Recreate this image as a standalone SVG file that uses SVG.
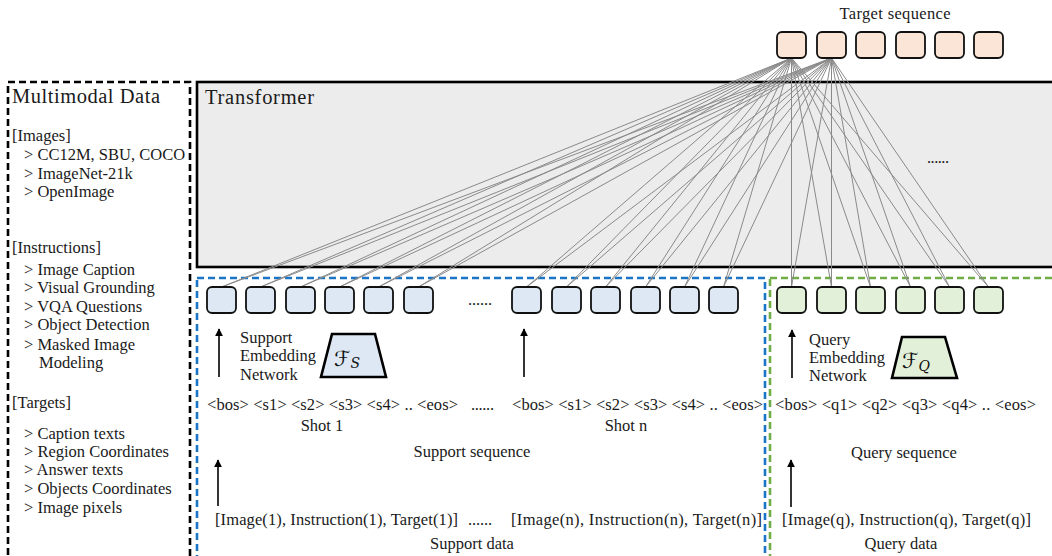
<svg xmlns="http://www.w3.org/2000/svg" width="1052" height="556" viewBox="0 0 1052 556">
  <defs>
    <style>
      .t { font-family: "Liberation Serif", "DejaVu Serif", serif; font-size: 16.5px; fill: #1a1a1a; }
      .big { font-size: 20.5px; }
      .tok { stroke: #111; stroke-width: 1.8; }
      .tgt { fill: #fbe5d6; }
      .sup { fill: #dde8f4; }
      .qry { fill: #e2efd9; }
      .conn line { stroke: #8a8a8a; stroke-width: 1; }
      .arrow { stroke: #000; stroke-width: 1.6; fill: none; marker-end: url(#head); }
      .dash { fill: none; stroke-width: 2.6; stroke-dasharray: 7 4; }
      .fs { font-family: "DejaVu Serif", "DejaVu Sans", serif; font-style: italic; fill: #111; }
    </style>
    <marker id="head" viewBox="0 0 10 10" refX="9" refY="5" markerWidth="5" markerHeight="5" orient="auto" markerUnits="strokeWidth">
      <path d="M0,0 L10,5 L0,10 z" fill="#000"/>
    </marker>
  </defs>

  <rect width="1052" height="556" fill="#fff"/>

  <!-- data sources panel -->
  <g id="multimodal-data">
    <rect class="dash" x="8" y="82" width="182" height="500" stroke="#000"/>
    <text class="t big" x="12" y="103" textLength="148">Multimodal Data</text>
    <text class="t" x="12" y="141">[Images]</text>
    <text class="t" x="24" y="160">&gt; CC12M, SBU, COCO</text>
    <text class="t" x="24" y="179">&gt; ImageNet-21k</text>
    <text class="t" x="24" y="197">&gt; OpenImage</text>
    <text class="t" x="12" y="253">[Instructions]</text>
    <text class="t" x="24" y="275">&gt; Image Caption</text>
    <text class="t" x="24" y="293">&gt; Visual Grounding</text>
    <text class="t" x="24" y="312">&gt; VQA Questions</text>
    <text class="t" x="24" y="330">&gt; Object Detection</text>
    <text class="t" x="24" y="350">&gt; Masked Image</text>
    <text class="t" x="39" y="368">Modeling</text>
    <text class="t" x="12" y="408">[Targets]</text>
    <text class="t" x="24" y="439">&gt; Caption texts</text>
    <text class="t" x="24" y="457">&gt; Region Coordinates</text>
    <text class="t" x="24" y="475">&gt; Answer texts</text>
    <text class="t" x="24" y="494">&gt; Objects Coordinates</text>
    <text class="t" x="24" y="513">&gt; Image pixels</text>
  </g>

  <!-- transformer block -->
  <g id="transformer">
    <rect x="197" y="82" width="900" height="185" fill="#ececec" stroke="#000" stroke-width="2.6"/>
    <text class="t big" x="205" y="104" textLength="109">Transformer</text>
    <text class="t" x="927" y="163" textLength="22">......</text>
  </g>

  <!-- support / query regions -->
  <g id="support-region">
    <rect class="dash" x="197" y="278" width="568" height="300" stroke="#1b75c6"/>
  </g>
  <g id="query-region">
    <rect class="dash" x="770" y="278" width="320" height="300" stroke="#70ad47"/>
  </g>

  <!-- attention connectors from target tokens to input tokens -->
  <g id="connectors" class="conn">
    <line x1="791.5" y1="58" x2="221.5" y2="287"/>
    <line x1="791.5" y1="58" x2="260.5" y2="287"/>
    <line x1="791.5" y1="58" x2="300.5" y2="287"/>
    <line x1="791.5" y1="58" x2="339.5" y2="287"/>
    <line x1="791.5" y1="58" x2="378.5" y2="287"/>
    <line x1="791.5" y1="58" x2="418.5" y2="287"/>
    <line x1="791.5" y1="58" x2="526.5" y2="287"/>
    <line x1="791.5" y1="58" x2="566.5" y2="287"/>
    <line x1="791.5" y1="58" x2="605.5" y2="287"/>
    <line x1="791.5" y1="58" x2="645.5" y2="287"/>
    <line x1="791.5" y1="58" x2="684.5" y2="287"/>
    <line x1="791.5" y1="58" x2="723.5" y2="287"/>
    <line x1="791.5" y1="58" x2="791.5" y2="287"/>
    <line x1="791.5" y1="58" x2="831.5" y2="287"/>
    <line x1="791.5" y1="58" x2="870.5" y2="287"/>
    <line x1="791.5" y1="58" x2="910.5" y2="287"/>
    <line x1="791.5" y1="58" x2="949.5" y2="287"/>
    <line x1="791.5" y1="58" x2="988.5" y2="287"/>
    <line x1="831.5" y1="58" x2="221.5" y2="287"/>
    <line x1="831.5" y1="58" x2="260.5" y2="287"/>
    <line x1="831.5" y1="58" x2="300.5" y2="287"/>
    <line x1="831.5" y1="58" x2="339.5" y2="287"/>
    <line x1="831.5" y1="58" x2="378.5" y2="287"/>
    <line x1="831.5" y1="58" x2="418.5" y2="287"/>
    <line x1="831.5" y1="58" x2="526.5" y2="287"/>
    <line x1="831.5" y1="58" x2="566.5" y2="287"/>
    <line x1="831.5" y1="58" x2="605.5" y2="287"/>
    <line x1="831.5" y1="58" x2="645.5" y2="287"/>
    <line x1="831.5" y1="58" x2="684.5" y2="287"/>
    <line x1="831.5" y1="58" x2="723.5" y2="287"/>
    <line x1="831.5" y1="58" x2="791.5" y2="287"/>
    <line x1="831.5" y1="58" x2="831.5" y2="287"/>
    <line x1="831.5" y1="58" x2="870.5" y2="287"/>
    <line x1="831.5" y1="58" x2="910.5" y2="287"/>
    <line x1="831.5" y1="58" x2="949.5" y2="287"/>
    <line x1="831.5" y1="58" x2="988.5" y2="287"/>
  </g>

  <!-- target sequence -->
  <g id="target-sequence">
    <text class="t" x="895" y="19" text-anchor="middle" textLength="111">Target sequence</text>
    <rect class="tok tgt" x="777" y="32" width="29" height="26" rx="5"/>
    <rect class="tok tgt" x="817" y="32" width="29" height="26" rx="5"/>
    <rect class="tok tgt" x="856" y="32" width="29" height="26" rx="5"/>
    <rect class="tok tgt" x="896" y="32" width="29" height="26" rx="5"/>
    <rect class="tok tgt" x="935" y="32" width="29" height="26" rx="5"/>
    <rect class="tok tgt" x="974" y="32" width="29" height="26" rx="5"/>
  </g>

  <!-- support shot 1 embeddings -->
  <g id="shot-1-embeddings">
    <rect class="tok sup" x="207" y="287" width="29" height="26" rx="5"/>
    <rect class="tok sup" x="246" y="287" width="29" height="26" rx="5"/>
    <rect class="tok sup" x="286" y="287" width="29" height="26" rx="5"/>
    <rect class="tok sup" x="325" y="287" width="29" height="26" rx="5"/>
    <rect class="tok sup" x="364" y="287" width="29" height="26" rx="5"/>
    <rect class="tok sup" x="404" y="287" width="29" height="26" rx="5"/>
    <text class="t" x="468" y="305" textLength="24">......</text>
  </g>

  <!-- support shot n embeddings -->
  <g id="shot-n-embeddings">
    <rect class="tok sup" x="512" y="287" width="29" height="26" rx="5"/>
    <rect class="tok sup" x="552" y="287" width="29" height="26" rx="5"/>
    <rect class="tok sup" x="591" y="287" width="29" height="26" rx="5"/>
    <rect class="tok sup" x="631" y="287" width="29" height="26" rx="5"/>
    <rect class="tok sup" x="670" y="287" width="29" height="26" rx="5"/>
    <rect class="tok sup" x="709" y="287" width="29" height="26" rx="5"/>
  </g>

  <!-- query embeddings -->
  <g id="query-embeddings">
    <rect class="tok qry" x="777" y="287" width="29" height="26" rx="5"/>
    <rect class="tok qry" x="817" y="287" width="29" height="26" rx="5"/>
    <rect class="tok qry" x="856" y="287" width="29" height="26" rx="5"/>
    <rect class="tok qry" x="896" y="287" width="29" height="26" rx="5"/>
    <rect class="tok qry" x="935" y="287" width="29" height="26" rx="5"/>
    <rect class="tok qry" x="974" y="287" width="29" height="26" rx="5"/>
  </g>

  <!-- support embedding network -->
  <g id="support-embedding">
    <line class="arrow" x1="219" y1="377" x2="219" y2="329"/>
    <text class="t" x="240" y="343">Support</text>
    <text class="t" x="240" y="361">Embedding</text>
    <text class="t" x="240" y="380">Network</text>
    <polygon points="332,334 375,334 386,377 321,377" fill="#dde8f4" stroke="#000" stroke-width="2.6" stroke-linejoin="miter"/>
    <text class="fs" x="334" y="366" font-size="21">ℱ<tspan font-size="14" dy="2">S</tspan></text>
  </g>
  <g id="shot-n-arrow">
    <line class="arrow" x1="524" y1="377" x2="524" y2="329"/>
  </g>

  <!-- query embedding network -->
  <g id="query-embedding">
    <line class="arrow" x1="792" y1="378" x2="792" y2="330"/>
    <text class="t" x="809" y="345">Query</text>
    <text class="t" x="809" y="363">Embedding</text>
    <text class="t" x="809" y="381">Network</text>
    <polygon points="902,337 945,337 957,378 892,378" fill="#e2efd9" stroke="#000" stroke-width="2.6" stroke-linejoin="miter"/>
    <text class="fs" x="902" y="368" font-size="21">ℱ<tspan font-size="14" dy="3">Q</tspan></text>
  </g>

  <!-- token sequences -->
  <g id="support-sequence">
    <text class="t" x="207" y="410" textLength="251">&lt;bos&gt; &lt;s1&gt; &lt;s2&gt; &lt;s3&gt; &lt;s4&gt; .. &lt;eos&gt;</text>
    <text class="t" x="471" y="410" textLength="23">......</text>
    <text class="t" x="512" y="410" textLength="251">&lt;bos&gt; &lt;s1&gt; &lt;s2&gt; &lt;s3&gt; &lt;s4&gt; .. &lt;eos&gt;</text>
    <text class="t" x="322" y="431" text-anchor="middle">Shot 1</text>
    <text class="t" x="626" y="431" text-anchor="middle">Shot n</text>
    <text class="t" x="472" y="457" text-anchor="middle">Support sequence</text>
  </g>
  <g id="query-sequence">
    <text class="t" x="775" y="410" textLength="261">&lt;bos&gt; &lt;q1&gt; &lt;q2&gt; &lt;q3&gt; &lt;q4&gt; .. &lt;eos&gt;</text>
    <text class="t" x="904" y="458" text-anchor="middle">Query sequence</text>
  </g>

  <!-- raw data inputs -->
  <g id="support-data">
    <line class="arrow" x1="218" y1="506" x2="218" y2="460"/>
    <text class="t" x="215" y="525" textLength="243">[Image(1), Instruction(1), Target(1)]</text>
    <text class="t" x="468" y="525" textLength="24">......</text>
    <text class="t" x="511" y="525" textLength="251">[Image(n), Instruction(n), Target(n)]</text>
    <text class="t" x="472" y="549" text-anchor="middle">Support data</text>
  </g>
  <g id="query-data">
    <line class="arrow" x1="791" y1="507" x2="791" y2="460"/>
    <text class="t" x="782" y="525" textLength="249">[Image(q), Instruction(q), Target(q)]</text>
    <text class="t" x="901" y="549" text-anchor="middle">Query data</text>
  </g>
</svg>
